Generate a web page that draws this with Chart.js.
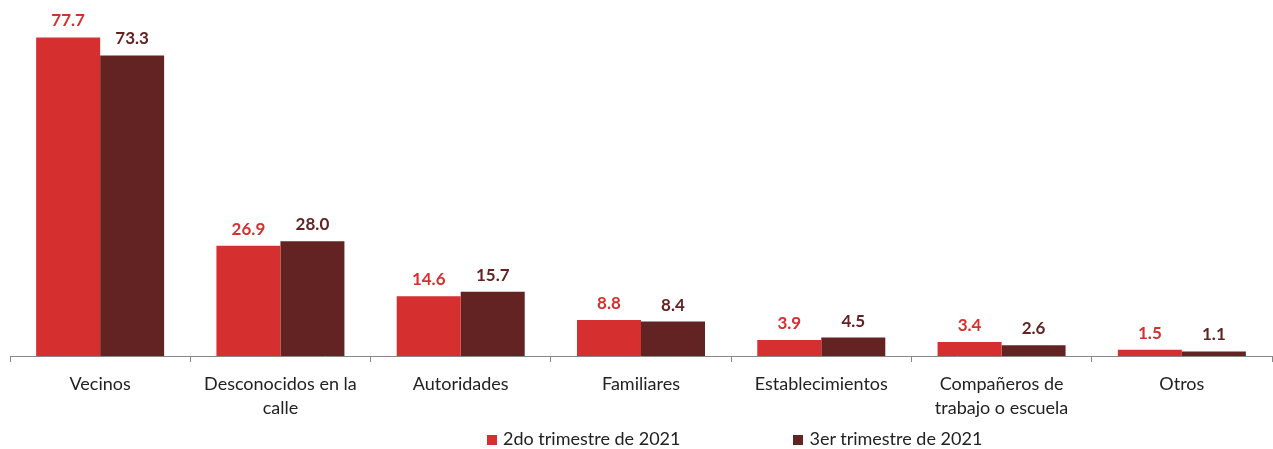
<!DOCTYPE html>
<html lang="es">
<head>
  <meta charset="UTF-8">
  <title>Chart</title>
  <script src="https://cdn.jsdelivr.net/npm/chart.js"></script>
  <style>
    body, html {
      margin: 0;
      padding: 0;
      background: #fff;
      font-family: 'Lato', sans-serif;
    }
    .wrap {
      position: relative;
      width: 1273px;
      height: 449px;
    }
    .legend {
      position: absolute;
      top: 427px;
      left: 487px;
      display: flex;
      gap: 113px;
      font-size: 18px;
      color: #222;
    }
    .legend span.box {
      display: inline-block;
      width: 10px;
      height: 10px;
      margin-right: 6px;
    }
  </style>
</head>
<body>
  <div class="wrap">
    <canvas id="chart" width="1273" height="449"></canvas>
    <div class="legend" id="legend"></div>
  </div>

  <script>
    const categories = ['Vecinos', ['Desconocidos en la', 'calle'], 'Autoridades', 'Familiares',
      'Establecimientos', ['Compañeros de', 'trabajo o escuela'], 'Otros'];
    const seriesNames = ['2do trimestre de 2021', '3er trimestre de 2021'];
    const q2Values = [77.7, 26.9, 14.6, 8.8, 3.9, 3.4, 1.5];
    const q3Values = [73.3, 28.0, 15.7, 8.4, 4.5, 2.6, 1.1];
    const colors = ['#D62F2F', '#632323'];

    // value labels on top of each bar
    const valueLabels = {
      id: 'valueLabels',
      afterDatasetsDraw(chart) {
        const ctx = chart.ctx;
        ctx.save();
        ctx.font = 'bold 17px Lato';
        ctx.textAlign = 'center';
        ctx.textBaseline = 'bottom';
        chart.data.datasets.forEach((ds, i) => {
          ctx.fillStyle = colors[i];
          chart.getDatasetMeta(i).data.forEach((bar, j) => {
            ctx.fillText(ds.data[j].toFixed(1), bar.x, bar.y - 8);
          });
        });
        ctx.restore();
      }
    };

    new Chart(document.getElementById('chart'), {
      type: 'bar',
      data: {
        labels: categories,
        datasets: [
          { label: seriesNames[0], data: q2Values, backgroundColor: colors[0] },
          { label: seriesNames[1], data: q3Values, backgroundColor: colors[1] }
        ]
      },
      options: {
        responsive: false,
        animation: false,
        layout: { padding: { left: 10, right: 1, top: 28, bottom: 0 } },
        datasets: { bar: { categoryPercentage: 0.71, barPercentage: 1 } },
        plugins: { legend: { display: false }, tooltip: { enabled: false } },
        scales: {
          x: {
            offset: true,
            afterFit(scale) { scale.height = 93; },
            grid: { drawOnChartArea: false, tickLength: 6, color: '#888', offset: true },
            border: { color: '#888' },
            ticks: {
              color: '#222',
              font: { family: 'Lato', size: 18, lineHeight: 1.33 },
              padding: 10,
              maxRotation: 0
            }
          },
          y: {
            display: false,
            min: 0,
            max: 80
          }
        }
      },
      plugins: [valueLabels]
    });

    const legend = document.getElementById('legend');
    seriesNames.forEach((name, i) => {
      const item = document.createElement('div');
      item.innerHTML = '<span class="box" style="background:' + colors[i] + '"></span>' + name;
      legend.appendChild(item);
    });
  </script>
</body>
</html>
